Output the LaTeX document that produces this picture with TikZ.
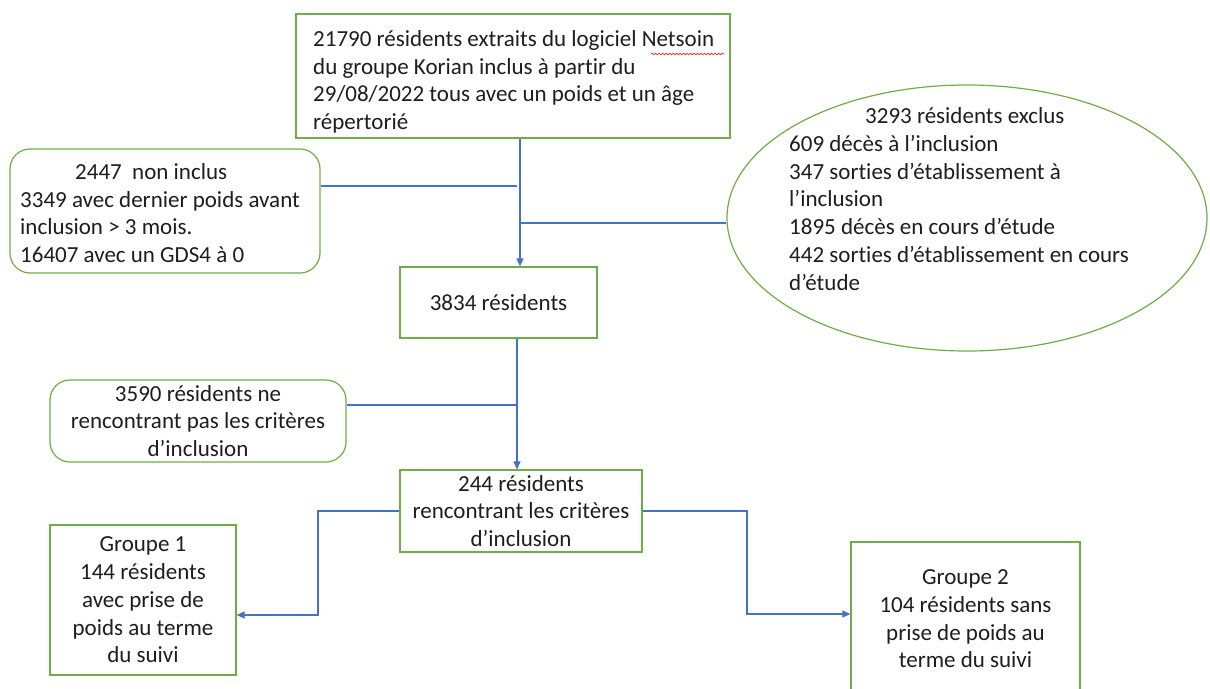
\documentclass[tikz,border=0pt]{standalone}
\usepackage{fontspec}
\setmainfont{Carlito}[Ligatures={NoCommon}]
\usetikzlibrary{arrows.meta,shapes.geometric,calc,decorations.pathmorphing}
\definecolor{boxgreen}{RGB}{112,173,71}
\definecolor{linkblue}{RGB}{68,114,196}
\definecolor{txt}{RGB}{30,30,30}
\begin{document}
\begin{tikzpicture}[x=1pt,y=-1pt,
  every node/.style={font=\fontsize{23}{27.7}\selectfont, text=txt, inner sep=0pt},
  sqbox/.style={draw=boxgreen, line width=1.2pt, rectangle, fill=white},
  rbox/.style={draw=boxgreen, line width=1.2pt, rectangle, rounded corners=20pt, fill=white},
  ovalbox/.style={draw=boxgreen, line width=1.2pt, ellipse, fill=white},
  link/.style={draw=linkblue, line width=1.2pt},
  arr/.style={link, -{Triangle[length=8pt,width=7pt]}}]
\clip (0,0) rectangle (1210,688);
\fill[white] (0,0) rectangle (1210,688);

% boxes
\node[sqbox, minimum width=434pt, minimum height=124pt] (top) at (513,76) {};
\node[align=left, anchor=west] (topt) at (313,82)
  {21790 résidents extraits du logiciel Netsoin\\du groupe Korian inclus à partir du\\29/08/2022 tous avec un poids et un âge\\répertorié};
\draw[red, line width=0.6pt, decorate, decoration={snake, amplitude=0.9pt, segment length=3.5pt}] (651,54) -- (724,54);

\node[rbox, minimum width=310pt, minimum height=124pt] (nonincl) at (165,211) {};
\node[align=left, anchor=west] (noninclt) at (20,213)
  {\hspace*{55pt}2447\ \ non inclus\\3349 avec dernier poids avant\\inclusion > 3 mois.\\16407 avec un GDS4 à 0};

\node[ovalbox, minimum width=480pt, minimum height=266pt] (excl) at (967,218) {};
\node[align=left, anchor=west] (exclt) at (789,199)
  {\hspace*{76pt}3293 résidents exclus\\609 décès à l’inclusion\\347 sorties d’établissement à\\l’inclusion\\1895 décès en cours d’étude\\442 sorties d’établissement en cours\\d’étude};

\node[sqbox, minimum width=197pt, minimum height=71pt] (n3834) at (498.5,302.5) {3834 résidents};

\node[rbox, minimum width=296pt, minimum height=82pt, align=center] (n3590) at (198,421)
  {3590 résidents ne\\rencontrant pas les critères\\d’inclusion};

\node[sqbox, minimum width=242pt, minimum height=82pt, align=center] (n244) at (521,511)
  {244 résidents\\rencontrant les critères\\d’inclusion};

\node[sqbox, minimum width=186pt, minimum height=150pt, align=center] (g1) at (143,600)
  {Groupe 1\\144 résidents\\avec prise de\\poids au terme\\du suivi};

\node[sqbox, minimum width=229pt, minimum height=160pt] (g2) at (965.5,622) {};
\node[align=center] (g2t) at (965.5,619)
  {Groupe 2\\104 résidents sans\\prise de poids au\\terme du suivi};

% junction coordinates
\coordinate (mx) at (520,0);
\coordinate (mx2) at (517,0);
\coordinate (jL) at (517,186);
\coordinate (jR) at (520,223);
\coordinate (jL2) at (517,405);
\coordinate (c1) at (318,615);
\coordinate (c2) at (747,614);

% connectors
\draw[arr] (mx |- top.south) -- (mx |- n3834.north);
\draw[link] (jL -| nonincl.east) -- (jL);
\draw[link] (jR -| excl.west) -- (jR);
\draw[arr] (mx2 |- n3834.south) -- (mx2 |- n244.north);
\draw[link] (jL2 -| n3590.east) -- (jL2);
\draw[arr] (n244.west) -| (c1) -- (c1 -| g1.east);
\draw[arr] (n244.east) -| (c2) -- (c2 -| g2.west);
\end{tikzpicture}
\end{document}
